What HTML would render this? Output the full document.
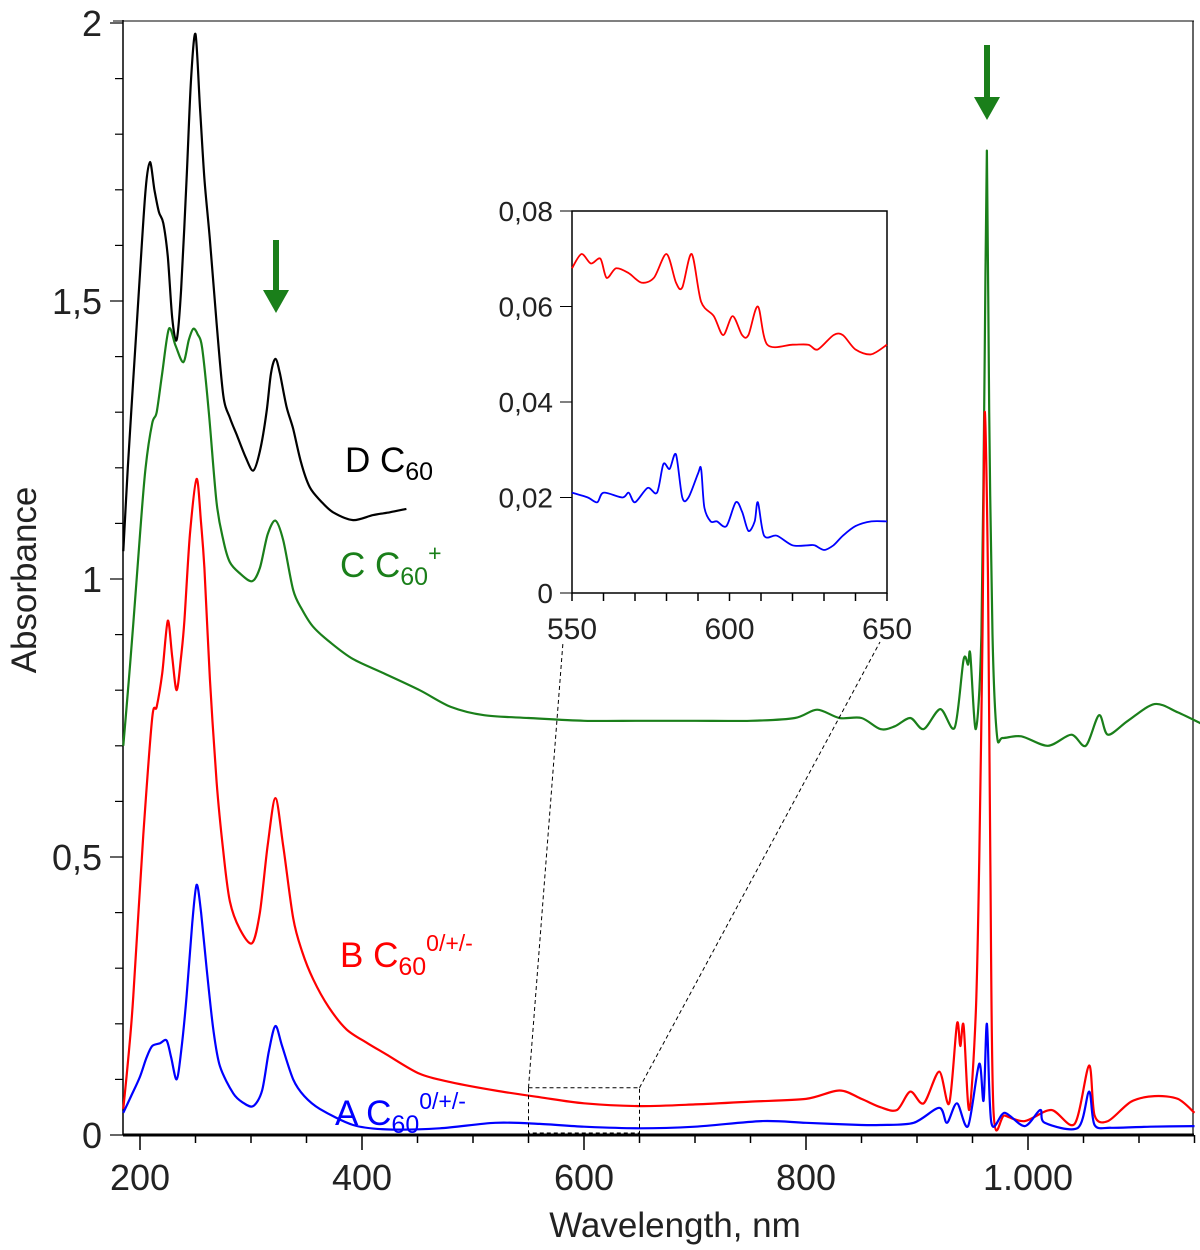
<!DOCTYPE html>
<html><head><meta charset="utf-8"><style>
body{margin:0;background:#fff;}
svg{display:block;font-family:"Liberation Sans",sans-serif;}
</style></head><body>
<svg id="chart" width="1200" height="1250">
<g id="axes"></g>
<g id="series"></g>
<g id="inset"></g>
<g>
  <line x1="276" y1="240" x2="276" y2="290" stroke="#1a7f1a" stroke-width="6"/>
  <polygon points="263,290 289,290 276,313" fill="#1a7f1a"/>
  <line x1="987" y1="45" x2="987" y2="97" stroke="#1a7f1a" stroke-width="6"/>
  <polygon points="974,97 1000,97 987,120" fill="#1a7f1a"/>
  <text x="345" y="472" font-size="35" fill="#000">D C<tspan font-size="25" dy="8">60</tspan></text>
  <text x="340" y="577" font-size="35" fill="#1a7f1a">C C<tspan font-size="25" dy="8">60</tspan><tspan font-size="23" dy="-24">+</tspan></text>
  <text x="340" y="967" font-size="35" fill="#f00">B C<tspan font-size="25" dy="8">60</tspan><tspan font-size="23" dy="-24">0/+/-</tspan></text>
  <text x="335" y="1125" font-size="35" fill="#00f">A C<tspan font-size="25" dy="8">60</tspan><tspan font-size="23" dy="-24">0/+/-</tspan></text>
  <text x="675" y="1237" font-size="35" text-anchor="middle" fill="#222">Wavelength, nm</text>
  <text transform="translate(36,580) rotate(-90)" font-size="35" text-anchor="middle" fill="#222">Absorbance</text>
</g>
</svg>
<script>
const xTicks=[200,400,600,800,1000];
const xTickLabels=["200","400","600","800","1.000"];
const yTicks=[0,0.5,1,1.5,2];
const yTickLabels=["0","0,5","1","1,5","2"];
const seriesD=[[185,1.05],[189,1.2],[194,1.36],[200,1.55],[205,1.7],[209,1.75],[213,1.7],[217,1.66],[221,1.64],[225,1.58],[229,1.47],[233,1.43],[237,1.52],[242,1.72],[246,1.9],[250,1.98],[254,1.85],[258,1.72],[263,1.61],[269,1.46],[275,1.33],[281,1.29],[287,1.26],[295,1.22],[302,1.195],[308,1.23],[314,1.3],[318,1.37],[322,1.396],[326,1.37],[332,1.31],[338,1.27],[345,1.21],[353,1.165],[363,1.14],[374,1.12],[392,1.106],[410,1.115],[425,1.12],[440,1.126]];
const seriesC=[[185,0.7],[190,0.82],[194,0.92],[200,1.08],[205,1.2],[211,1.28],[215,1.3],[220,1.37],[226,1.45],[232,1.42],[239,1.39],[244,1.43],[248,1.45],[252,1.44],[256,1.415],[262,1.3],[269,1.137],[275,1.07],[281,1.03],[290,1.01],[301,0.996],[308,1.02],[315,1.08],[322,1.105],[329,1.07],[338,0.98],[346,0.945],[356,0.914],[372,0.885],[392,0.856],[420,0.83],[452,0.8],[480,0.77],[510,0.755],[550,0.75],[600,0.745],[650,0.745],[700,0.745],[750,0.745],[790,0.75],[810,0.765],[830,0.75],[850,0.75],[867,0.73],[880,0.735],[894,0.75],[906,0.73],[921,0.766],[934,0.733],[942,0.855],[946,0.846],[948,0.865],[953,0.73],[958,0.9],[961,1.4],[963,1.77],[965,1.3],[968,0.9],[972,0.72],[977,0.714],[994,0.717],[1018,0.7],[1039,0.72],[1052,0.7],[1064,0.755],[1072,0.72],[1090,0.745],[1114,0.775],[1135,0.76],[1156,0.74]];
const seriesB=[[185,0.047],[190,0.15],[194,0.25],[203,0.54],[211,0.75],[215,0.77],[220,0.83],[225,0.925],[229,0.86],[233,0.8],[237,0.86],[240,0.925],[245,1.08],[251,1.18],[255,1.1],[258,1.02],[263,0.82],[269,0.635],[275,0.51],[281,0.42],[290,0.37],[301,0.345],[308,0.4],[315,0.52],[322,0.606],[329,0.52],[338,0.39],[346,0.33],[356,0.28],[370,0.23],[386,0.19],[405,0.165],[422,0.145],[452,0.11],[480,0.095],[520,0.08],[560,0.068],[600,0.057],[650,0.052],[700,0.055],[750,0.06],[800,0.065],[830,0.08],[850,0.065],[867,0.05],[882,0.045],[894,0.078],[906,0.057],[920,0.114],[929,0.057],[936,0.2],[939,0.16],[942,0.197],[947,0.045],[953,0.22],[956,0.49],[959,0.9],[961,1.3],[964,1.0],[966,0.5],[969,0.04],[979,0.035],[997,0.025],[1021,0.045],[1042,0.02],[1055,0.125],[1060,0.035],[1072,0.025],[1093,0.06],[1114,0.07],[1135,0.065],[1150,0.04]];
const seriesA=[[185,0.04],[192,0.07],[200,0.105],[206,0.14],[211,0.16],[218,0.165],[224,0.17],[228,0.14],[233,0.1],[237,0.15],[242,0.25],[247,0.38],[251,0.45],[255,0.4],[260,0.3],[266,0.19],[272,0.124],[284,0.075],[293,0.058],[302,0.052],[310,0.08],[316,0.15],[322,0.196],[328,0.16],[338,0.1],[348,0.07],[362,0.047],[392,0.018],[422,0.01],[470,0.012],[520,0.022],[560,0.02],[600,0.015],[650,0.012],[700,0.015],[760,0.025],[800,0.022],[850,0.018],[867,0.018],[897,0.022],[920,0.049],[927,0.022],[936,0.057],[946,0.016],[956,0.128],[960,0.062],[963,0.2],[967,0.022],[979,0.04],[997,0.016],[1011,0.045],[1015,0.022],[1045,0.013],[1055,0.078],[1060,0.018],[1075,0.013],[1110,0.015],[1150,0.016]];
const insetXTicks=[550,600,650];
const insetYTicks=[0,0.02,0.04,0.06,0.08];
const insetYTickLabels=["0","0,02","0,04","0,06","0,08"];
const insetRed=[[550,0.068],[553,0.071],[556,0.069],[559,0.07],[561,0.066],[564,0.068],[568,0.067],[572,0.065],[576,0.066],[580,0.071],[583,0.065],[585,0.064],[588,0.071],[591,0.061],[595,0.058],[598,0.054],[601,0.058],[604,0.054],[606,0.054],[609,0.06],[612,0.052],[620,0.052],[625,0.052],[628,0.051],[633,0.054],[636,0.054],[640,0.051],[645,0.05],[650,0.052]];
const insetBlue=[[550,0.021],[555,0.02],[558,0.019],[560,0.021],[566,0.02],[568,0.021],[570,0.019],[574,0.022],[577,0.021],[579,0.027],[581,0.026],[583,0.029],[585,0.02],[587,0.02],[590,0.025],[591,0.026],[592,0.018],[594,0.015],[596,0.015],[599,0.014],[602,0.019],[604,0.017],[606,0.013],[608,0.015],[609,0.019],[611,0.012],[615,0.012],[620,0.01],[625,0.01],[627,0.01],[630,0.009],[633,0.01],[636,0.012],[640,0.014],[645,0.015],[650,0.015]];

const NS="http://www.w3.org/2000/svg";
const X=nm=>140+(nm-200)*1.11;
const Y=v=>1135-v*556;
const IX=nm=>572+(nm-550)*3.15;
const IY=v=>593-v*4775;
function mk(tag,attrs,parent){const e=document.createElementNS(NS,tag);for(const k in attrs)e.setAttribute(k,attrs[k]);parent.appendChild(e);return e;}
const axes=document.getElementById('axes');
let e;
e=mk('line',{x1:123,y1:1135,x2:1194,y2:1135,stroke:'#000','stroke-width':3},axes);


e=mk('line',{x1:123,y1:20,x2:123,y2:1135,stroke:'#000','stroke-width':1.5},axes);


e=mk('line',{x1:113,y1:21,x2:1194,y2:21,stroke:'#000','stroke-width':1},axes);


e=mk('line',{x1:1193,y1:21,x2:1193,y2:1135,stroke:'#000','stroke-width':1.2},axes);


for(let nm=200;nm<=1150;nm+=50){const major=nm%200===0;
 e=mk('line',{x1:X(nm),y1:1135,x2:X(nm),y2:major?1150:1143,stroke:'#000','stroke-width':1.5},axes);
 
 }
xTicks.forEach((t,i)=>{e=mk('text',{x:X(t),y:1190,'font-size':36,'text-anchor':'middle',fill:'#222'},axes);e.textContent=xTickLabels[i];
 
 });
for(let k=0;k<=20;k++){const v=k/10;const major=k%5===0;
 e=mk('line',{x1:major?110:115,y1:Y(v),x2:123,y2:Y(v),stroke:'#000','stroke-width':1.2},axes);
 
 }
yTicks.forEach((t,i)=>{e=mk('text',{x:102,y:Y(t)+13,'font-size':36,'text-anchor':'end',fill:'#222'},axes);e.textContent=yTickLabels[i];
 
 });
function path(data,fx,fy,color,name,parent,w){
 const p=data.map(q=>[fx(q[0]),fy(q[1])]);
 let d='M'+p[0][0].toFixed(1)+','+p[0][1].toFixed(1);
 for(let i=0;i<p.length-1;i++){const p0=p[Math.max(0,i-1)],p1=p[i],p2=p[i+1],p3=p[Math.min(p.length-1,i+2)];const t=0.15;
  const c1=[p1[0]+(p2[0]-p0[0])*t,p1[1]+(p2[1]-p0[1])*t],c2=[p2[0]-(p3[0]-p1[0])*t,p2[1]-(p3[1]-p1[1])*t];
  d+='C'+c1[0].toFixed(1)+','+c1[1].toFixed(1)+' '+c2[0].toFixed(1)+','+c2[1].toFixed(1)+' '+p2[0].toFixed(1)+','+p2[1].toFixed(1);}
 const el=mk('path',{d:d,fill:'none',stroke:color,'stroke-width':w,'stroke-linejoin':'round'},parent);
 
 }
const ser=document.getElementById('series');
path(seriesD,X,Y,'#000','series-d',ser,2.2);
path(seriesC,X,Y,'#1a7f1a','series-c',ser,2.2);
path(seriesB,X,Y,'#f00','series-b',ser,2.2);
path(seriesA,X,Y,'#00f','series-a',ser,2.2);
e=mk('rect',{x:X(550),y:Y(0.085),width:X(650)-X(550),height:Y(0)-Y(0.085)-2,fill:'none',stroke:'#000','stroke-dasharray':'4,3','stroke-width':1},ser);


e=mk('line',{x1:X(550),y1:Y(0.085),x2:563,y2:642,stroke:'#000','stroke-dasharray':'4,3'},ser);


e=mk('line',{x1:X(650),y1:Y(0.085),x2:880,y2:642,stroke:'#000','stroke-dasharray':'4,3'},ser);


const ins=document.getElementById('inset');
e=mk('rect',{x:572,y:211,width:315,height:382,fill:'#fff',stroke:'#000','stroke-width':1.5},ins);


for(let nm=550;nm<=650;nm+=10){e=mk('line',{x1:IX(nm),y1:593,x2:IX(nm),y2:601,stroke:'#000','stroke-width':1.5},ins);
 
 }
insetXTicks.forEach(t=>{e=mk('text',{x:IX(t),y:639,'font-size':30,'text-anchor':'middle',fill:'#222'},ins);e.textContent=t;
 
 });
insetYTicks.forEach((t,i)=>{e=mk('line',{x1:560,y1:IY(t),x2:572,y2:IY(t),stroke:'#000','stroke-width':1},ins);
 
 
 e=mk('text',{x:553,y:IY(t)+10,'font-size':28,'text-anchor':'end',fill:'#222'},ins);e.textContent=insetYTickLabels[i];
 
 });
path(insetRed,IX,IY,'#f00','inset-series-b',ins,1.8);
path(insetBlue,IX,IY,'#00f','inset-series-a',ins,1.8);
</script>
</body></html>
